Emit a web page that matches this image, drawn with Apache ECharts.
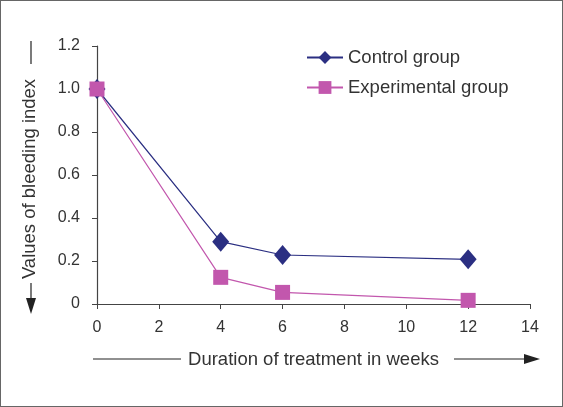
<!DOCTYPE html>
<html>
<head>
<meta charset="utf-8">
<script src="https://cdn.jsdelivr.net/npm/echarts@6/dist/echarts.min.js"></script>
<style>
html,body{margin:0;padding:0;background:#fff;}
#c{width:563px;height:407px;box-sizing:border-box;border:1.5px solid #666;}
</style>
</head>
<body>
<div id="c"></div>
<script>
const weeks = [0, 4, 6, 12];
const controlGroup = [1.0, 0.29, 0.228, 0.208];
const experimentalGroup = [1.0, 0.124, 0.054, 0.017];
const xTicks = [0, 2, 4, 6, 8, 10, 12, 14];
const yTicks = [0, 0.2, 0.4, 0.6, 0.8, 1.0, 1.2];
const seriesNames = ['Control group', 'Experimental group'];
const xTitle = 'Duration of treatment in weeks';
const yTitle = 'Values of bleeding index';

const chart = echarts.init(document.getElementById('c'), null, {renderer: 'canvas'});
const font = 'Liberation Sans, Arial, sans-serif';
const axisColor = '#444';
const textColor = '#333';

function pairs(xs, ys){ return xs.map((x,i)=>[x, ys[i]]); }

chart.setOption({
  animation: false,
  textStyle: {fontFamily: font},
  grid: {left: 96, right: 32, top: 45, bottom: 102, containLabel: false},
  legend: {
    data: seriesNames,
    orient: 'vertical',
    left: 300,
    top: 42,
    itemWidth: 36,
    itemHeight: 16,
    itemGap: 11,
    textStyle: {fontFamily: font, fontSize: 18.5, color: textColor}
  },
  xAxis: {
    type: 'value',
    min: xTicks[0], max: xTicks[xTicks.length-1], interval: 2,
    axisLine: {show: true, onZero: false, lineStyle: {color: axisColor, width: 1.2}},
    axisTick: {show: true, length: 5, inside: false, lineStyle: {color: axisColor}},
    axisLabel: {fontSize: 16, color: textColor, margin: 16, fontFamily: font},
    splitLine: {show: false},
    name: xTitle,
    nameLocation: 'middle',
    nameGap: 46,
    nameTextStyle: {fontSize: 18.5, color: textColor, fontFamily: font}
  },
  yAxis: {
    type: 'value',
    min: yTicks[0], max: yTicks[yTicks.length-1], interval: 0.2,
    axisLine: {show: true, lineStyle: {color: axisColor, width: 1.2}},
    axisTick: {show: true, length: 5, inside: false, lineStyle: {color: axisColor}},
    axisLabel: {fontSize: 16, color: textColor, margin: 17, fontFamily: font,
      formatter: v => v === 0 ? '0' : v.toFixed(1)},
    splitLine: {show: false},
    name: yTitle,
    nameLocation: 'middle',
    nameGap: 58,
    nameTextStyle: {fontSize: 18.5, color: textColor, fontFamily: font, padding: [0, 8, 0, 0]}
  },
  series: [
    {
      name: seriesNames[0], type: 'line', data: pairs(weeks, controlGroup),
      symbol: 'diamond', symbolSize: [17, 20],
      lineStyle: {color: '#2b2f82', width: 1.2},
      itemStyle: {color: '#2b2f82'},
      z: 3
    },
    {
      name: seriesNames[1], type: 'line', data: pairs(weeks, experimentalGroup),
      symbol: 'rect', symbolSize: 15,
      lineStyle: {color: '#c257ad', width: 1.2},
      itemStyle: {color: '#c257ad'},
      z: 4
    }
  ],
  graphic: [
    {type: 'line', shape: {x1: 30, y1: 40, x2: 30, y2: 63}, style: {stroke: '#222', lineWidth: 1.2}},
    {type: 'line', shape: {x1: 30, y1: 282, x2: 30, y2: 300}, style: {stroke: '#222', lineWidth: 1.2}},
    {type: 'polygon', shape: {points: [[25, 297], [35, 297], [30, 313]]}, style: {fill: '#222'}},
    {type: 'line', shape: {x1: 92, y1: 358, x2: 180, y2: 358}, style: {stroke: '#222', lineWidth: 1.2}},
    {type: 'line', shape: {x1: 453, y1: 358, x2: 526, y2: 358}, style: {stroke: '#222', lineWidth: 1.2}},
    {type: 'polygon', shape: {points: [[523, 353], [523, 363], [539, 358]]}, style: {fill: '#222'}}
  ]
});
</script>
</body>
</html>
